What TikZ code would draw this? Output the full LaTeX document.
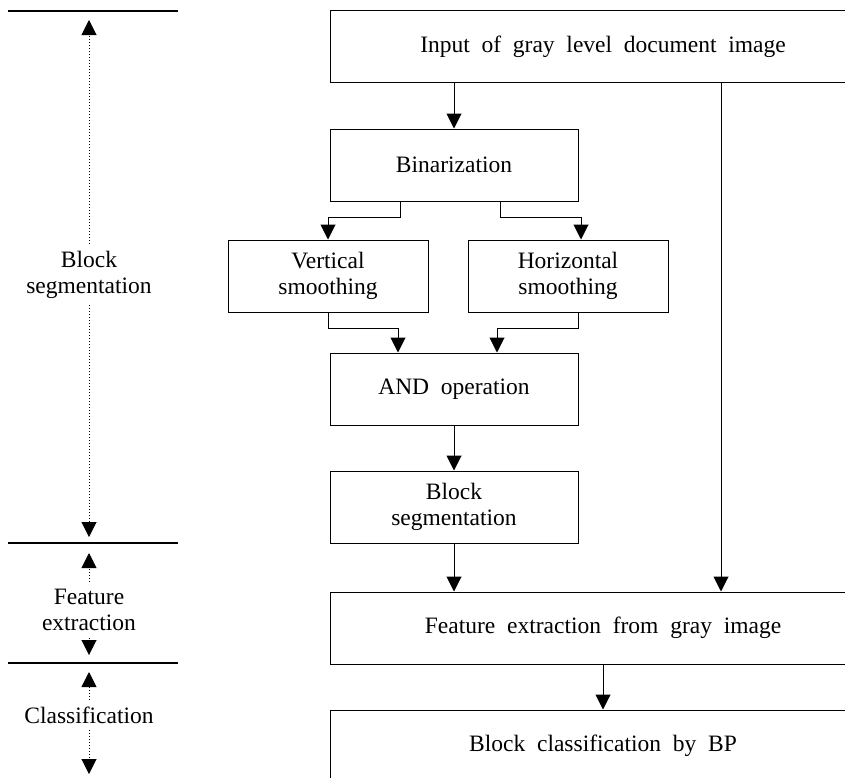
\documentclass[tikz,border=0pt]{standalone}
\usepackage{fontspec}
\setmainfont{Liberation Serif}[WordSpace=2]
\usetikzlibrary{arrows.meta}

\begin{document}
\begin{tikzpicture}[x=0.5pt,y=-0.5pt,
    font=\fontsize{11.75}{13}\selectfont,
    stage/.style ={rectangle, draw, line width=0.5pt, minimum height=36pt, align=center},
    flow/.style ={line width=0.5pt, -{Triangle[length=7.5pt,width=7.5pt]}},
    span/.style ={densely dotted, line width=0.5pt, -{Triangle[length=7.5pt,width=7.5pt]}}]
   \useasboundingbox (0,0) rectangle (845,777);
   \clip (0,0) rectangle (845,777);
   % processing stages
   \node[stage, minimum width=273pt] (input) at (603,46.5) {Input of gray level document image};
   \node[stage, minimum width=124pt] (bin) at (454,165) {Binarization};
   \node[stage, minimum width=100pt] (vsm) at (328,276) {Vertical\\smoothing};
   \node[stage, minimum width=100pt] (hsm) at (568,276) {Horizontal\\smoothing};
   \node[stage, minimum width=124pt] (and) at (454,389) {AND operation};
   \node[stage, minimum width=124pt] (bseg) at (454,507) {Block\\segmentation};
   \node[stage, minimum width=273pt] (feat) at (603,628) {Feature extraction from gray image};
   \node[stage, minimum width=273pt] (cls) at (603,746) {Block classification by BP};
   \coordinate (tap) at (721,0);
   \draw[flow] (input.south -| bin.north) to (bin.north);
   \draw[flow] ([xshift=-27pt]bin.south) -- ++(0,16) -| (vsm.north);
   \draw[flow] ([xshift=23pt]bin.south) -- ++(0,16) -| ([xshift=6.5pt]hsm.north);
   \draw[flow] (vsm.south) -- ++(0,16) -| ([xshift=-28pt]and.north);
   \draw[flow] ([xshift=5pt]hsm.south) -- ++(0,16) -| ([xshift=21.5pt]and.north);
   \draw[flow] (and.south) to (bseg.north);
   \draw[flow] (bseg.south) to (bseg.south |- feat.north);
   \draw[flow] (input.south -| tap) to (feat.north -| tap);
   \draw[flow] (feat.south -| cls.north) to (cls.north);
   % phases on the left
   \coordinate (s1l) at (8,11);   \coordinate (s1r) at (178,11);
   \coordinate (s2l) at (8,543);  \coordinate (s2r) at (178,543);
   \coordinate (s3l) at (8,663);  \coordinate (s3r) at (178,663);
   \draw[line width=0.6pt] (s1l) -- (s1r);
   \draw[line width=0.6pt] (s2l) -- (s2r);
   \draw[line width=0.6pt] (s3l) -- (s3r);
   \node[align=center] (pseg) at (89,274.5) {Block\\segmentation};
   \node[align=center] (pfeat) at (89,610) {Feature\\extraction};
   \node (pcls) at (89,715) {Classification};
   \coordinate (t1) at (89,20);   \coordinate (b1) at (89,537);
   \coordinate (t2) at (89,553);  \coordinate (b2) at (89,655);
   \coordinate (t3) at (89,672);  \coordinate (b3) at (89,774);
   \draw[span] (pseg) -- (t1);
   \draw[span] (pseg) -- (b1);
   \draw[span] (pfeat) -- (t2);
   \draw[span] (pfeat) -- (b2);
   \draw[span] (pcls) -- (t3);
   \draw[span] (pcls) -- (b3);
\end{tikzpicture}
\end{document}
